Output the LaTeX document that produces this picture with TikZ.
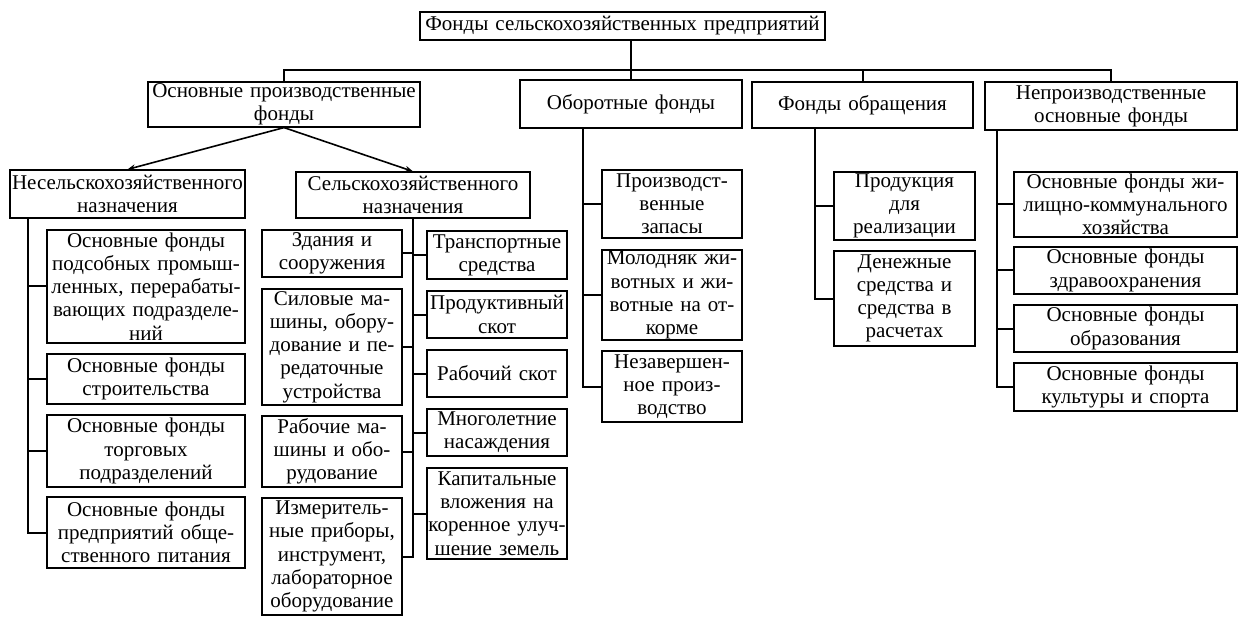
\documentclass[tikz,border=0pt]{standalone}
\usepackage{fontspec}
\setmainfont{Liberation Serif}
\usetikzlibrary{arrows.meta}
\begin{document}
\begin{tikzpicture}[x=0.5pt, y=-0.5pt,
    cell/.style={draw, line width=0.6pt, inner xsep=0pt, inner ysep=0.5pt, align=center,
      font=\fontsize{10.5}{11.6}\selectfont},
    wide/.style={cell, text width=99pt},
    narrow/.style={cell, text width=70pt},
    link/.style={line width=1pt},
    fork/.style={line width=0.8pt, -{Stealth[length=4pt,width=3pt]}}]
    \useasboundingbox (0,0) rectangle (1247,620);
    % top level
    \node[cell, text width=202.5pt, minimum height=14pt] (top) at (622.5,26) {Фонды сельскохозяйственных предприятий};
    \node[cell, text width=136pt, minimum height=22.5pt] (opf) at (284,104.5) {Основные производственные\\фонды};
    \node[cell, text width=111pt, minimum height=24pt] (oborot) at (631,104) {Оборотные фонды};
    \node[cell, text width=110.5pt, minimum height=23pt] (obr) at (862.5,105) {Фонды обращения};
    \node[cell, text width=126pt, minimum height=24pt] (nepr) at (1111,106) {Непроизводственные\\основные фонды};
    \node[cell, text width=117.5pt, minimum height=24pt] (nesel) at (127.5,194) {Несельскохозяйственного\\назначения};
    \node[cell, text width=117pt, minimum height=23pt] (selsk) at (413,195) {Сельскохозяйственного\\назначения};
    % non-agricultural funds
    \node[wide, minimum height=56.5pt] (podsob) at (146,286.5) {Основные фонды\\подсобных промыш-\\ленных, перерабаты-\\вающих подразделе-\\ний};
    \node[wide, minimum height=25pt] (stroi) at (146,379) {Основные фонды\\строительства};
    \node[wide, minimum height=36pt] (torg) at (146,451) {Основные фонды\\торговых\\подразделений};
    \node[wide, minimum height=35.5pt] (pitan) at (146,532.5) {Основные фонды\\предприятий обще-\\ственного питания};
    % agricultural funds
    \node[narrow, minimum height=23.5pt] (zdan) at (332,253.5) {Здания и\\сооружения};
    \node[narrow, minimum height=58pt] (silov) at (332,347) {Силовые ма-\\шины, обору-\\дование и пе-\\редаточные\\устройства};
    \node[narrow, minimum height=35.5pt] (rabmash) at (332,451.5) {Рабочие ма-\\шины и обо-\\рудование};
    \node[narrow, minimum height=58.5pt] (izmer) at (332,556.5) {Измеритель-\\ные приборы,\\инструмент,\\лабораторное\\оборудование};
    \node[narrow, minimum height=24pt] (transp) at (497,255) {Транспортные\\средства};
    \node[narrow, minimum height=23.5pt] (prodskot) at (497,314.5) {Продуктивный\\скот};
    \node[narrow, minimum height=23.5pt] (rabskot) at (497,373.5) {Рабочий скот};
    \node[narrow, minimum height=23.5pt] (mnog) at (497,432.5) {Многолетние\\насаждения};
    \node[narrow, minimum height=45.5pt] (kapit) at (497,513.5) {Капитальные\\вложения на\\коренное улуч-\\шение земель};
    % working capital
    \node[narrow, minimum height=34pt] (zapas) at (672,204) {Производст-\\венные\\запасы};
    \node[narrow, minimum height=45pt] (molod) at (672,295) {Молодняк жи-\\вотных и жи-\\вотные на от-\\корме};
    \node[narrow, minimum height=35.5pt] (nezav) at (672,386.5) {Незавершен-\\ное произ-\\водство};
    % circulation funds
    \node[narrow, text width=70.5pt, minimum height=34pt] (prod) at (904.5,206) {Продукция\\для\\реализации};
    \node[narrow, text width=70.5pt, minimum height=47.5pt] (den) at (904.5,298.5) {Денежные\\средства и\\средства в\\расчетах};
    % non-productive funds
    \node[cell, text width=111.5pt, minimum height=32.5pt] (zhil) at (1125.5,204.5) {Основные фонды жи-\\лищно-коммунального\\хозяйства};
    \node[cell, text width=111.5pt, minimum height=23.5pt] (zdrav) at (1125.5,270.5) {Основные фонды\\здравоохранения};
    \node[cell, text width=111.5pt, minimum height=23.5pt] (obraz) at (1125.5,328.5) {Основные фонды\\образования};
    \node[cell, text width=111.5pt, minimum height=24pt] (kult) at (1125.5,387) {Основные фонды\\культуры и спорта};
    % main bus
    \coordinate (bus) at (0,70);
    \draw[link] (opf.north) |- (bus -| nepr.north) -- (nepr.north);
    \draw[link] (obr.north) -- (obr.north |- bus);
    \draw[link] (oborot.north |- top.south) -- (oborot.north);
    \draw[fork] (opf.south) -- (nesel.north);
    \draw[fork] (opf.south) -- (selsk.north);
    % side buses
    \coordinate (nsBus) at (28,218);
    \coordinate (obBus) at (583,128);
    \coordinate (crBus) at (815,128);
    \coordinate (npBus) at (997,130);
    \foreach \k in {podsob,stroi,torg,pitan} \draw[link] (nsBus) |- (\k.west);
    \foreach \k in {zdan,silov,rabmash,izmer} \draw[link] (selsk.south) |- (\k.east);
    \foreach \k in {transp,prodskot,rabskot,mnog,kapit} \draw[link] (selsk.south) |- (\k.west);
    \foreach \k in {zapas,molod,nezav} \draw[link] (obBus) |- (\k.west);
    \foreach \k in {prod,den} \draw[link] (crBus) |- (\k.west);
    \foreach \k in {zhil,zdrav,obraz,kult} \draw[link] (npBus) |- (\k.west);
\end{tikzpicture}
\end{document}
